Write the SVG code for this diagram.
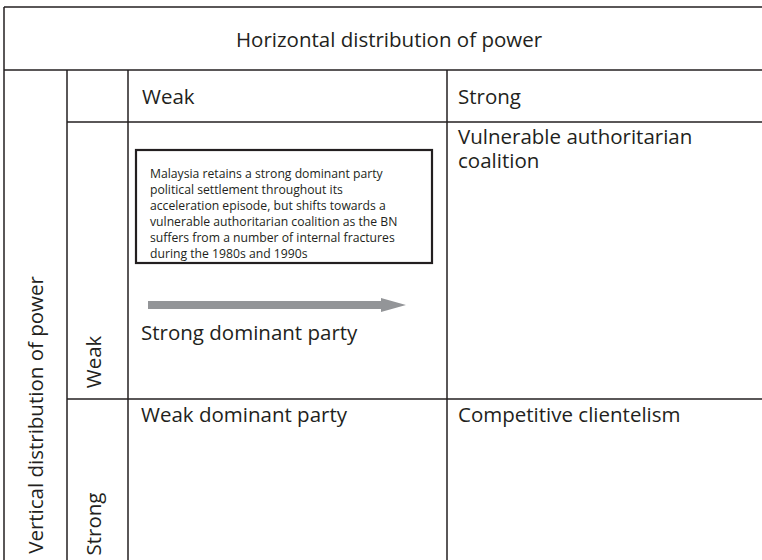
<svg xmlns="http://www.w3.org/2000/svg" width="762" height="560" viewBox="0 0 762 560">
<style>
.ln{stroke:#231f20;stroke-width:1.5;fill:none}
.t{font-family:"Open Sans","Noto Sans",sans-serif;font-size:20.5px;fill:#231f20}
.s{font-family:"Open Sans","Noto Sans",sans-serif;font-size:12.2px;fill:#231f20}
</style>
<rect width="762" height="560" fill="#fff"/>
<g id="grid">
<line class="ln" x1="4" y1="7" x2="762" y2="7"/>
<line class="ln" x1="4" y1="7" x2="4" y2="560"/>
<line class="ln" x1="4" y1="70" x2="762" y2="70"/>
<line class="ln" x1="67" y1="122" x2="762" y2="122"/>
<line class="ln" x1="67" y1="399" x2="762" y2="399"/>
<line class="ln" x1="67" y1="70" x2="67" y2="560"/>
<line class="ln" x1="128" y1="70" x2="128" y2="560"/>
<line class="ln" x1="447" y1="70" x2="447" y2="560"/>
</g>
<g id="header"><text class="t" x="389" y="47" text-anchor="middle">Horizontal distribution of power</text></g>
<g id="col-weak"><text class="t" x="142" y="104">Weak</text></g>
<g id="col-strong"><text class="t" x="458" y="104">Strong</text></g>
<g id="row-label"><text class="t" transform="translate(43,415) rotate(-90)" text-anchor="middle">Vertical distribution of power</text></g>
<g id="row-weak"><text class="t" transform="translate(101,362) rotate(-90)" text-anchor="middle">Weak</text></g>
<g id="row-strong"><text class="t" transform="translate(101,524) rotate(-90)" text-anchor="middle">Strong</text></g>
<g id="vac"><text class="t" x="458" y="144">Vulnerable authoritarian<tspan x="458" dy="24">coalition</tspan></text></g>
<g id="note">
<rect x="136" y="150" width="296" height="113" fill="#fff" stroke="#231f20" stroke-width="2.2"/>
<text class="s" x="150" y="178">Malaysia retains a strong dominant party<tspan x="150" dy="16">political settlement throughout its</tspan><tspan x="150" dy="16">acceleration episode, but shifts towards a</tspan><tspan x="150" dy="16">vulnerable authoritarian coalition as the BN</tspan><tspan x="150" dy="16">suffers from a number of internal fractures</tspan><tspan x="150" dy="16">during the 1980s and 1990s</tspan></text>
</g>
<g id="connectors">
<path d="M148 301 H381 V298 L406 305 L381 312 V309 H148 Z" fill="#939598"/>
</g>
<g id="sdp"><text class="t" x="141" y="340">Strong dominant party</text></g>
<g id="wdp"><text class="t" x="141" y="422">Weak dominant party</text></g>
<g id="cc"><text class="t" x="458" y="422">Competitive clientelism</text></g>
</svg>
